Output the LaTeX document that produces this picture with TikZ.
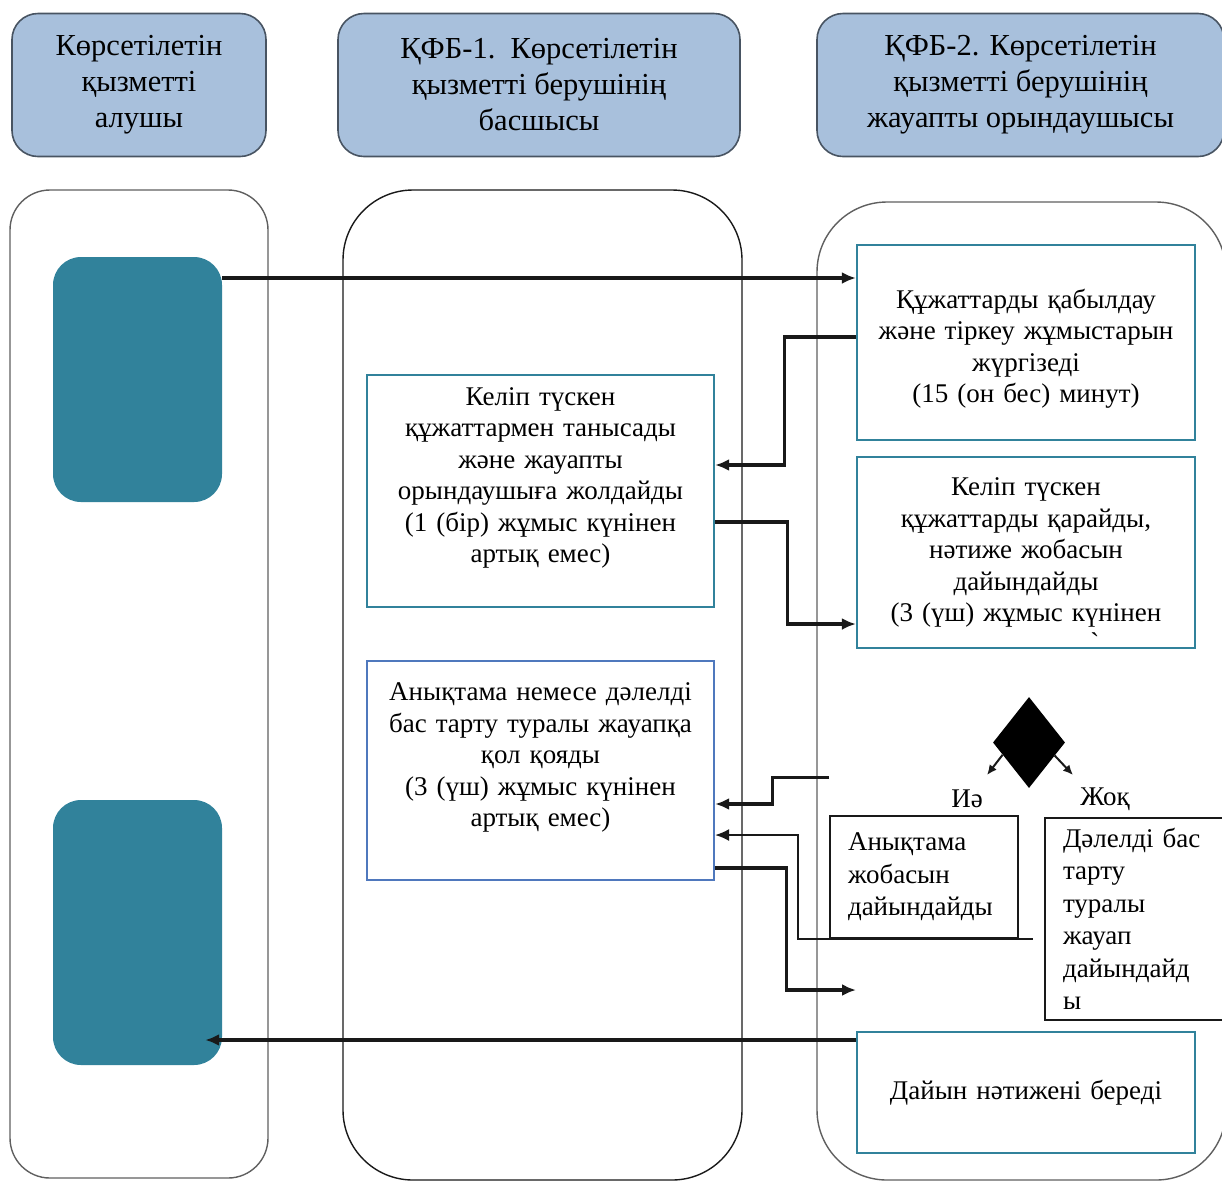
\documentclass[tikz,border=0pt]{standalone}
\usepackage{fontspec}
\setmainfont{Liberation Serif}
\usepackage{tikz}
\usetikzlibrary{arrows.meta,shapes.geometric}
\definecolor{kzedge}{RGB}{25,25,25}
\definecolor{kzlane}{RGB}{95,95,95}
\definecolor{kzhdr}{RGB}{168,192,220}
\definecolor{kzhdredge}{RGB}{72,84,98}
\definecolor{kzteal}{RGB}{49,130,155}
\definecolor{kzblue}{RGB}{79,120,189}
\tikzset{
  kbox/.style={
    draw=kzteal, line width=2.2pt, fill=white,
    align=center, inner sep=4pt, font=\fontsize{27}{31.5}\selectfont
  },
  hdr/.style={
    draw=kzhdredge, fill=kzhdr, line width=1.6pt, rounded corners=26pt,
    align=center, font=\fontsize{30.5}{36}\selectfont
  },
  actor/.style={fill=kzteal, rounded corners=28pt, inner sep=0pt},
  stepbox/.style={kbox, text width=330pt, minimum width=338pt},
  signbox/.style={kbox, draw=kzblue, text width=339pt, minimum width=347pt},
  optbox/.style={
    draw=kzedge, line width=1.6pt, fill=white, align=left,
    inner xsep=18pt, font=\fontsize{27}{32.5}\selectfont
  },
  lane/.style={draw=kzlane, line width=1.4pt},
  arr/.style={-{Latex[length=14pt,width=12pt]}, draw=kzedge, line width=3.1pt},
  thinarr/.style={arr, line width=1.7pt},
  decarr/.style={-{Latex[length=10pt,width=9pt]}, draw=kzedge, line width=2pt},
  anno/.style={font=\fontsize{27}{32}\selectfont, inner sep=0pt}
}
\begin{document}
\begin{tikzpicture}[x=1pt,y=-1pt]
  \useasboundingbox (0,0) rectangle (1222,1187);
  % headers
  \node[hdr, minimum width=254pt, minimum height=143pt] (h1) at (139,85)
    {Көрсетілетін\\қызметті\\алушы};
  \node[hdr, minimum width=402pt, minimum height=143pt] (h2) at (539,85)
    {ҚФБ-1.\ \ Көрсетілетін\\қызметті берушінің\\басшысы};
  \node[hdr, minimum width=407pt, minimum height=143pt] (h3) at (1020.5,85)
    {ҚФБ-2. Көрсетілетін\\қызметті берушінің\\жауапты орындаушысы};
  % lanes
  \draw[lane, rounded corners=40pt] (10,190) rectangle (268,1178);
  \draw[lane, draw=kzedge, rounded corners=70pt] (343,190) rectangle (742,1180);
  \draw[lane, rounded corners=70pt] (817,202) rectangle (1226,1180);
  % recipient
  \node[actor, minimum width=169pt, minimum height=245pt] (app) at (137.5,379.5) {};
  \node[actor, minimum width=169pt, minimum height=265pt] (res) at (137.5,932.5) {};
  % head of provider
  \node[signbox, draw=kzteal, minimum height=232pt] (review) at (540.5,491)
    {Келіп түскен\\құжаттармен танысады\\және жауапты\\орындаушыға жолдайды\\(1 (бір) жұмыс күнінен\\артық емес)\\~};
  \node[signbox, minimum height=219pt] (sign) at (540.5,770.5)
    {Анықтама немесе дәлелді\\бас тарту туралы жауапқа\\қол қояды\\(3 (үш) жұмыс күнінен\\артық емес)\\~};
  % executor
  \node[stepbox, minimum height=195pt] (recv) at (1026,342.5)
    {~\\Құжаттарды қабылдау\\және тіркеу жұмыстарын\\жүргізеді\\(15 (он бес) минут)};
  \node[stepbox, minimum height=191pt] (check) at (1026,552.5)
    {Келіп түскен\\құжаттарды қарайды,\\нәтиже жобасын\\дайындайды\\(3 (үш) жұмыс күнінен\llap{\raisebox{-30pt}[0pt][0pt]{\textasciigrave}\hspace{62pt}}};
  \node[diamond, fill=black, inner sep=0pt, minimum width=72pt, minimum height=91pt] (dec) at (1029,742.5) {};
  \node[anno] (yeslab) at (967,799) {Иә};
  \node[anno] (nolab) at (1105,799) {Жоқ};
  \node[optbox, text width=152pt, minimum height=122pt] (yes) at (924,877)
    {Анықтама\\жобасын\\дайындайды};
  \node[optbox, text width=144pt, minimum height=202pt] (no) at (1135,919)
    {Дәлелді бас\\тарту\\туралы\\жауап\\дайындайд\\ы};
  \node[stepbox, minimum height=121pt] (out) at (1026,1092.5) {Дайын нәтижені береді};
  \coordinate (yesend) at (987,775);
  \coordinate (noend) at (1073,775);
  \coordinate (outend) at (856,990);
  % connectors
  \draw[arr] ([yshift=101.5pt]app.east) -- ([yshift=64.5pt]recv.west);
  \draw[arr] ([yshift=5.5pt]recv.west) -- ++(-71,0) |- ([yshift=26pt]review.east);
  \draw[arr] ([yshift=-31pt]review.east) -- ++(72,0) |- ([yshift=-71.5pt]check.west);
  \draw[decarr] (dec.205) -- (yesend);
  \draw[decarr] (dec.333) -- (noend);
  \draw[arr] ([yshift=38pt]yes.north west) -- ++(-57,0) |- ([yshift=-33.5pt]sign.east);
  \draw[thinarr] ([xshift=14pt]yes.south east) -- ++(-235,0) |- ([yshift=-64.5pt]sign.east);
  \draw[arr] ([yshift=-97.5pt]sign.east) -- ++(71,0) |- (outend);
  \draw[arr] ([yshift=52.5pt]out.west) -- ([xshift=-17pt,yshift=-107.5pt]res.east);
\end{tikzpicture}
\end{document}
